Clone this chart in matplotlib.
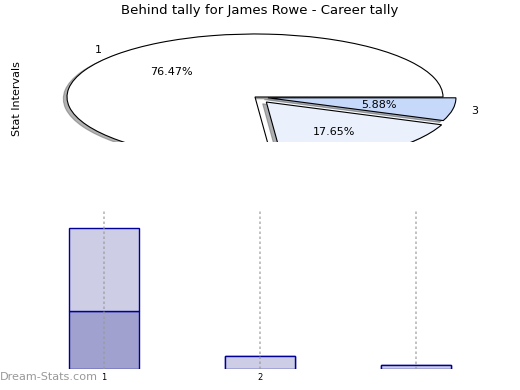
import matplotlib
matplotlib.use("Agg")
import matplotlib.pyplot as plt

# pie data
pie_labels = ["1", "2", "3"]
pie_values = [13, 3, 1]
pie_colors = ["#ffffff", "#eaf1fd", "#c6d9fb"]
pie_explode = [0, 0.1, 0.07]

# bar data (bar 1 is stacked)
bar_x = [1, 2, 3]
bar_ticklabels = ["1", "2", ""]
bar_lower = [5.4, 1.2, 0.35]
bar_upper = [7.6, 0, 0]

fig = plt.figure(figsize=(5.2, 3.9), dpi=100)

# --- pie ---
ax1 = fig.add_axes([30 / 520, (390 - 142) / 390, 460 / 520, 114 / 390])
wedges, texts, autotexts = ax1.pie(pie_values, labels=pie_labels, colors=pie_colors,
                                   explode=pie_explode, autopct="%.2f%%",
                                   shadow=dict(ox=-0.014, oy=-0.02, shade=0.6),
                                   startangle=0, labeldistance=1.1,
                                   wedgeprops=dict(edgecolor="black", linewidth=0.8),
                                   textprops=dict(fontsize=8))
ax1.set_aspect("auto")
ax1.set_xlim(-225 / 188, 235 / 188)
ax1.set_ylim(-45 / 63, 69 / 63)
for p in ax1.patches:
    p.set_clip_on(True)
    p.set_clip_path(ax1.patch)
for t in texts + autotexts:
    t.set_clip_on(True)
ax1.set_ylabel("Stat Intervals", fontsize=8)
ax1.yaxis.set_label_coords(-8 / 460, (142 - 99) / 114)
fig.suptitle("Behind tally for James Rowe - Career tally", fontsize=9.5, x=0.5, y=0.99)

# --- bars ---
ax2 = fig.add_axes([26 / 520, 21 / 390, 468 / 520, 159 / 390])
ax2.bar(bar_x, bar_lower, width=0.45, color="#a1a1d0", edgecolor="#000099", linewidth=1)
ax2.bar(bar_x[:1], bar_upper[:1], bottom=bar_lower[:1], width=0.45, color="#cdcde6",
        edgecolor="#000099", linewidth=1)
ax2.bar(bar_x[1:], bar_lower[1:], width=0.45, color="#cdcde6", edgecolor="#000099",
        linewidth=1)
ax2.set_xlim(0.5, 3.5)
ax2.set_ylim(0, 14.7)
ax2.set_xticks(bar_x)
ax2.set_xticklabels(bar_ticklabels, fontsize=6)
ax2.set_yticks([])
ax2.tick_params(axis="x", length=0, pad=3)
for s in ax2.spines.values():
    s.set_visible(False)
ax2.set_axisbelow(False)
ax2.grid(axis="x", color="#999999", linestyle=(0, (1.5, 1.5)), linewidth=1.2, alpha=0.7)

fig.text(0.0, 8 / 390, "Dream-Stats.com", fontsize=8.1, color="#999999", ha="left", va="bottom")

fig.savefig("out.png", dpi=100)
